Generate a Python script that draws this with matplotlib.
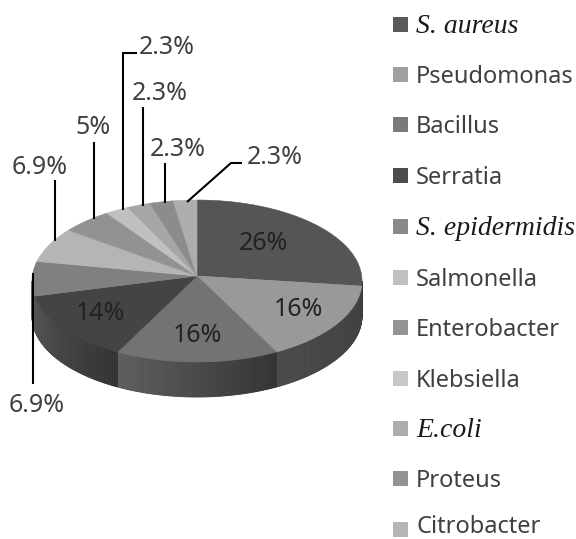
"""Grey 3D style pie of bacterial isolates"""
import numpy as np
import matplotlib
matplotlib.use('Agg')
import matplotlib.pyplot as plt
from matplotlib.patches import Polygon, Rectangle

# Chart data
categories = ['S. aureus', 'Pseudomonas', 'Bacillus', 'Serratia', 'S. epidermidis', 'Salmonella',
              'Enterobacter', 'Klebsiella', 'E.coli', 'Proteus', 'Citrobacter']
italic_names = ['S. aureus', 'S. epidermidis', 'E.coli']
values = [26, 16, 16, 14, 6.9, 6.9, 5, 2.3, 2.3, 2.3, 2.3]
value_labels = ['26%', '16%', '16%', '14%', '6.9%', '6.9%', '5%', '2.3%', '2.3%', '2.3%', '2.3%']

# Styles
top_colors = ['#555555', '#999999', '#737373', '#444444', '#808080', '#b5b5b5',
              '#929292', '#c0c0c0', '#a6a6a6', '#8c8c8c', '#adadad']
legend_colors = ['#5a5a5a', '#a0a0a0', '#7a7a7a', '#4d4d4d', '#8a8a8a', '#c0c0c0',
                 '#959595', '#c8c8c8', '#adadad', '#939393', '#b5b5b5']
# side colour at the right and left end of each visible wall
side_colors = {0: ('#3a3a3a', '#3a3a3a'), 1: ('#404040', '#4a4a4a'), 2: ('#333333', '#5e5e5e'),
               3: ('#333333', '#555555'), 4: ('#555555', '#666666')}
text_color = '#404040'

# Layout, in image pixels
CX, CY, RX, RY = 197, 281, 165, 81
APEX = (197, 276)
DEPTH = 35
label_pos = [(263, 243), (298, 309), (197, 336), (100, 314), (37, 405), (40, 167),
             (93, 128), (167, 47), (160, 94), (178, 150), (275, 158)]
leaders = {
    4: [(33, 273), (33, 384)],
    5: [(55, 180), (55, 241)],
    6: [(94, 142), (94, 219)],
    7: [(123, 210), (123, 53), (137, 53)],
    8: [(143, 107), (143, 206)],
    9: [(164.5, 163), (164.5, 203)],
    10: [(187, 202), (231, 163), (242, 163)],
}
legend_y = [24, 74, 124, 175, 226, 277, 327, 378, 428, 478, 529]


def rim(angle, drop=0):
    """Point on the pie rim, angle in degrees clockwise from the top"""
    a = np.radians(angle)
    return np.column_stack([CX + RX * np.sin(a), CY - RY * np.cos(a) + drop])


def mix(c1, c2, t):
    rgb1 = np.array(matplotlib.colors.to_rgb(c1))
    rgb2 = np.array(matplotlib.colors.to_rgb(c2))
    return tuple(rgb1 + (rgb2 - rgb1) * t)


fig = plt.figure(figsize=(5.76, 5.39), dpi=100)
ax = fig.add_axes([0, 0, 1, 1])
ax.set_xlim(0, 576)
ax.set_ylim(539, 0)
ax.axis('off')

edges = np.concatenate([[0], np.cumsum(values)]) / np.sum(values) * 360

# Walls first, only the front half of the rim shows
for i, (start, end) in enumerate(zip(edges[:-1], edges[1:])):
    lo, hi = max(start, 90), min(end, 270)
    if lo >= hi:
        continue
    steps = np.linspace(lo, hi, max(int(hi - lo) * 2, 2) + 1)
    right_c, left_c = side_colors[i]
    for j in range(len(steps) - 1):
        pair = steps[j:j + 2]
        upper = rim(pair)
        lower = rim(pair, DEPTH)[::-1]
        c = mix(right_c, left_c, j / (len(steps) - 1))
        ax.add_patch(Polygon(np.vstack([upper, lower]), closed=True, facecolor=c, edgecolor=c, lw=0.6))

# Top face
for i, (start, end) in enumerate(zip(edges[:-1], edges[1:])):
    arc = rim(np.linspace(start, end, 60))
    ax.add_patch(Polygon(np.vstack([[APEX], arc]), closed=True, facecolor=top_colors[i],
                         edgecolor=top_colors[i], lw=0.4))

# Value labels and leader lines
for i, label in enumerate(value_labels):
    ax.text(label_pos[i][0], label_pos[i][1], label, ha='center', va='center',
            family='Noto Sans', fontsize=18, color='#222222' if i < 4 else text_color)
for pts in leaders.values():
    xs, ys = zip(*pts)
    ax.plot(xs, ys, color='black', lw=1.5, solid_capstyle='butt', solid_joinstyle='miter')

# Legend, text sits on its baseline and the last one is kept inside the picture
for name, color, y in zip(categories, legend_colors, legend_y):
    ax.add_patch(Rectangle((393, y - 7.5), 15, 15, facecolor=color, edgecolor='none'))
    base = min(y + 9, 533)
    if name in italic_names:
        ax.text(416, base, name, ha='left', va='baseline', family='Liberation Serif', style='italic',
                fontsize=20, color='#1a1a1a')
    else:
        ax.text(416, base, name, ha='left', va='baseline', family='Noto Sans', fontsize=17, color=text_color)

fig.savefig('out.png', dpi=100)
plt.close(fig)
